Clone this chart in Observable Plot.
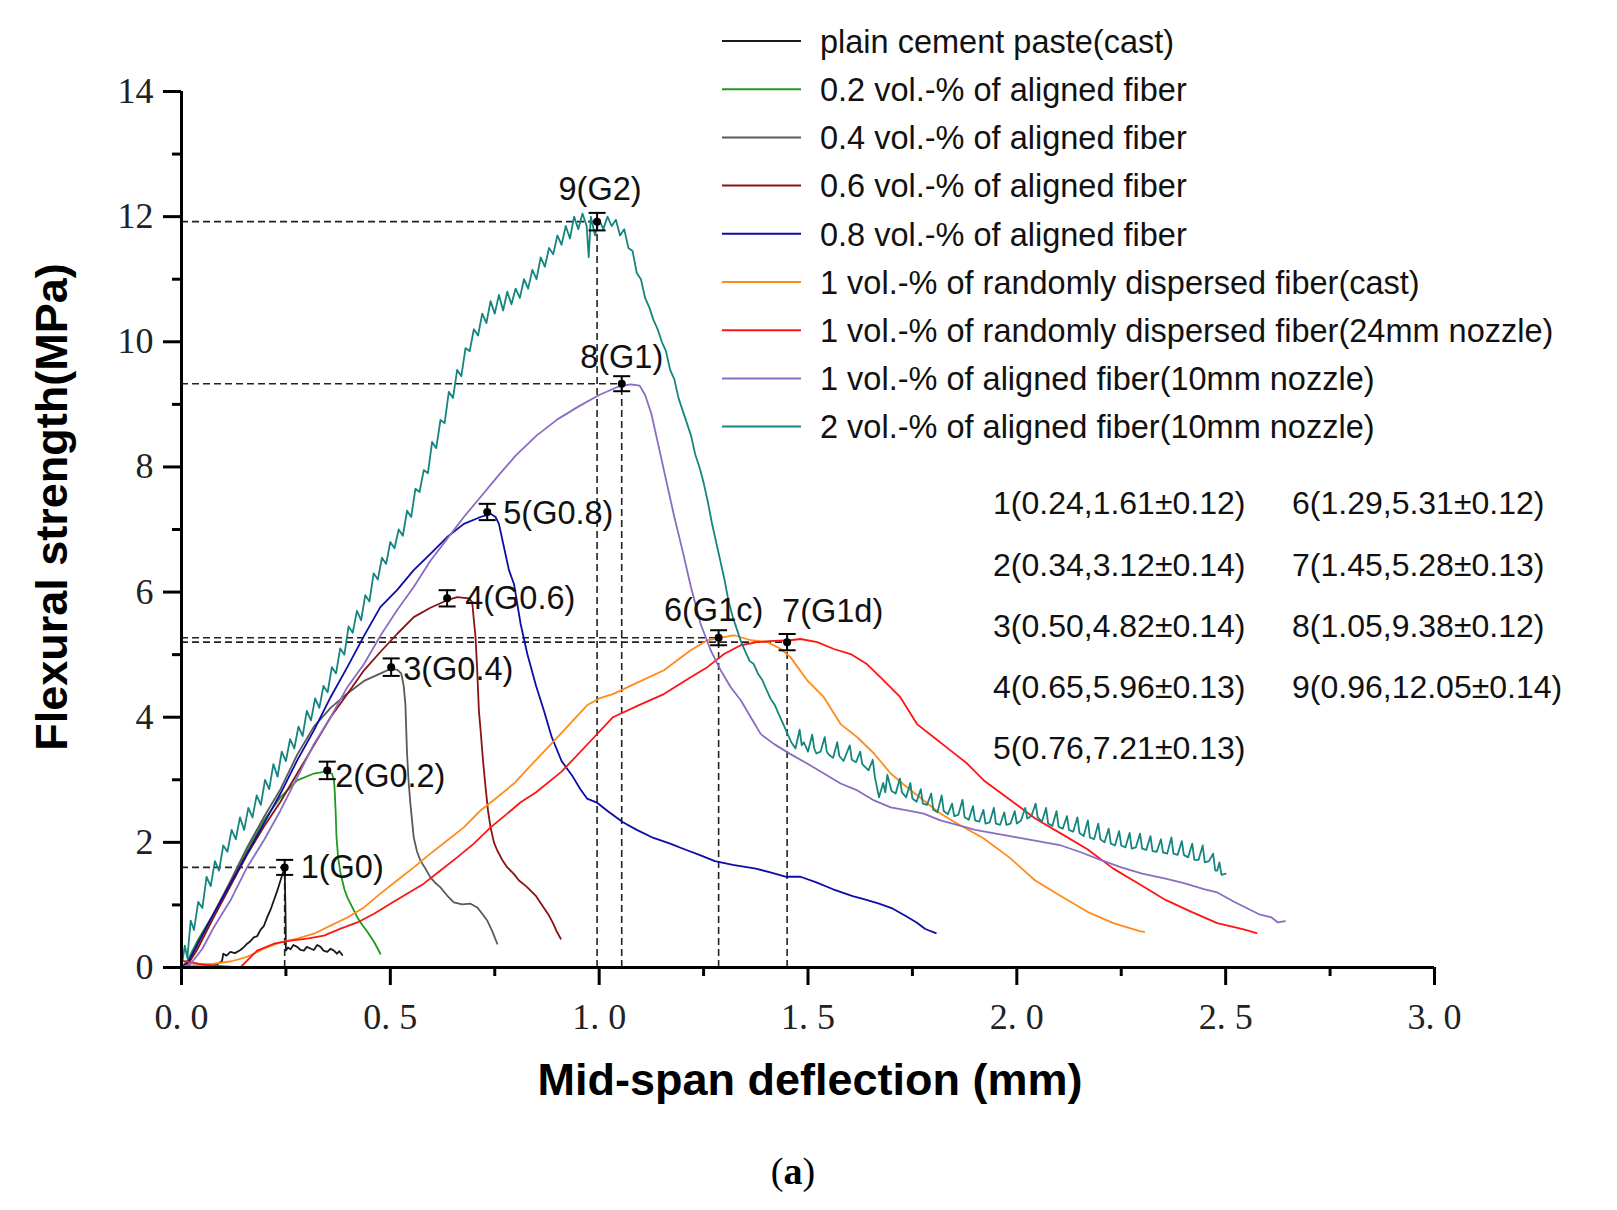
<!DOCTYPE html>
<html><head><meta charset="utf-8">
<script src="https://cdn.jsdelivr.net/npm/d3@7"></script>
<script src="https://cdn.jsdelivr.net/npm/@observablehq/plot@0.6"></script>
<style>
html,body{margin:0;padding:0;background:#fff;}
#chart{position:relative;width:1617px;height:1210px;}
</style></head><body><div id="chart"></div>
<script>
// ---------------- data ----------------
const seriesNames = [
  "plain cement paste(cast)",
  "0.2 vol.-% of aligned fiber",
  "0.4 vol.-% of aligned fiber",
  "0.6 vol.-% of aligned fiber",
  "0.8 vol.-% of aligned fiber",
  "1 vol.-% of randomly dispersed fiber(cast)",
  "1 vol.-% of randomly dispersed fiber(24mm nozzle)",
  "1 vol.-% of aligned fiber(10mm nozzle)",
  "2 vol.-% of aligned fiber(10mm nozzle)"
];
const seriesColors = ["#1a1a1a","#1f9a1f","#5a5a5a","#8b1212","#0c0ca6","#ff8c1a","#ff1414","#8a6cc4","#14857f"];

const plainPaste = [[0,0.02],[0.03,0.03],[0.06,0.02],[0.085,0.05],[0.097,0.1],[0.1,0.22],[0.108,0.19],[0.117,0.25],[0.128,0.23],[0.141,0.28],[0.15,0.33],[0.157,0.38],[0.165,0.42],[0.173,0.48],[0.181,0.5],[0.189,0.6],[0.197,0.66],[0.205,0.8],[0.213,0.92],[0.221,1.07],[0.229,1.22],[0.237,1.39],[0.243,1.52],[0.247,1.61],[0.249,0.9],[0.25,0.27],[0.255,0.32],[0.261,0.29],[0.268,0.36],[0.277,0.33],[0.285,0.28],[0.293,0.27],[0.3,0.33],[0.31,0.3],[0.317,0.28],[0.325,0.36],[0.333,0.33],[0.34,0.27],[0.349,0.25],[0.357,0.3],[0.365,0.27],[0.372,0.22],[0.378,0.26],[0.385,0.2]];

const aligned02 = [[0,0],[0.014,0.11],[0.04,0.45],[0.077,0.86],[0.117,1.34],[0.157,1.87],[0.197,2.35],[0.237,2.72],[0.277,2.99],[0.317,3.1],[0.345,3.13],[0.36,3.1],[0.365,3.0],[0.367,2.8],[0.369,2.5],[0.371,2.1],[0.375,1.75],[0.381,1.5],[0.39,1.25],[0.397,1.12],[0.41,0.95],[0.421,0.8],[0.433,0.68],[0.445,0.57],[0.46,0.42],[0.47,0.3],[0.476,0.22]];

const aligned04 = [[0,0],[0.02,0.12],[0.04,0.38],[0.077,0.86],[0.117,1.38],[0.157,1.92],[0.197,2.4],[0.237,2.85],[0.277,3.4],[0.317,3.85],[0.357,4.15],[0.397,4.38],[0.437,4.58],[0.477,4.7],[0.5,4.77],[0.516,4.76],[0.526,4.7],[0.532,4.5],[0.536,4.21],[0.54,3.42],[0.544,2.95],[0.548,2.62],[0.556,2.08],[0.564,1.85],[0.572,1.71],[0.584,1.58],[0.596,1.44],[0.608,1.35],[0.62,1.28],[0.636,1.15],[0.652,1.04],[0.672,1.01],[0.692,1.02],[0.708,0.96],[0.72,0.86],[0.732,0.75],[0.744,0.58],[0.756,0.38]];

const aligned06 = [[0,0],[0.02,0.1],[0.037,0.28],[0.077,0.8],[0.117,1.3],[0.157,1.8],[0.197,2.25],[0.237,2.65],[0.277,3.1],[0.317,3.55],[0.357,4.0],[0.397,4.37],[0.437,4.75],[0.477,5.05],[0.516,5.33],[0.556,5.6],[0.596,5.75],[0.636,5.87],[0.66,5.92],[0.688,5.9],[0.696,5.84],[0.7,5.55],[0.704,5.28],[0.708,4.75],[0.712,4.11],[0.716,3.8],[0.722,3.3],[0.728,2.88],[0.734,2.5],[0.74,2.24],[0.748,2.0],[0.756,1.87],[0.768,1.72],[0.78,1.6],[0.795,1.5],[0.808,1.39],[0.825,1.3],[0.84,1.2],[0.849,1.14],[0.865,0.98],[0.88,0.83],[0.89,0.7],[0.898,0.58],[0.908,0.46]];

const aligned08 = [[0,0],[0.014,0.06],[0.04,0.4],[0.077,0.86],[0.117,1.34],[0.157,1.82],[0.197,2.3],[0.237,2.78],[0.277,3.31],[0.317,3.79],[0.357,4.32],[0.397,4.8],[0.437,5.3],[0.476,5.76],[0.516,6.03],[0.556,6.35],[0.596,6.61],[0.636,6.88],[0.676,7.09],[0.716,7.2],[0.74,7.25],[0.752,7.2],[0.76,7.09],[0.772,6.72],[0.784,6.35],[0.796,6.13],[0.812,5.49],[0.828,5.01],[0.849,4.5],[0.868,4.1],[0.886,3.69],[0.91,3.3],[0.935,3.07],[0.955,2.85],[0.971,2.7],[0.996,2.63],[1.02,2.5],[1.057,2.32],[1.09,2.2],[1.13,2.07],[1.17,1.98],[1.204,1.89],[1.24,1.8],[1.277,1.7],[1.32,1.64],[1.375,1.58],[1.41,1.52],[1.448,1.45],[1.482,1.45],[1.52,1.36],[1.56,1.25],[1.607,1.14],[1.64,1.08],[1.67,1.02],[1.7,0.95],[1.732,0.83],[1.76,0.72],[1.78,0.62],[1.794,0.58],[1.806,0.55]];

const randomCast = [[0,0],[0.03,0.03],[0.077,0.06],[0.12,0.1],[0.157,0.17],[0.197,0.3],[0.237,0.4],[0.277,0.46],[0.317,0.54],[0.357,0.67],[0.397,0.8],[0.437,0.96],[0.476,1.18],[0.516,1.39],[0.556,1.6],[0.596,1.82],[0.636,2.03],[0.676,2.24],[0.716,2.51],[0.756,2.72],[0.796,2.94],[0.849,3.32],[0.91,3.75],[0.971,4.19],[1.0,4.3],[1.033,4.37],[1.094,4.56],[1.155,4.75],[1.219,5.07],[1.259,5.23],[1.299,5.28],[1.323,5.31],[1.363,5.23],[1.403,5.2],[1.435,5.09],[1.458,4.96],[1.498,4.59],[1.538,4.32],[1.578,3.89],[1.618,3.68],[1.658,3.42],[1.698,3.1],[1.737,2.88],[1.777,2.67],[1.817,2.46],[1.857,2.3],[1.919,2.07],[1.982,1.76],[2.044,1.39],[2.106,1.14],[2.169,0.89],[2.231,0.71],[2.294,0.58],[2.305,0.57]];

const randomNozzle = [[0,0.11],[0.04,0.06],[0.077,0.03],[0.141,0.0],[0.157,0.11],[0.181,0.27],[0.221,0.38],[0.261,0.43],[0.301,0.46],[0.341,0.51],[0.381,0.62],[0.421,0.72],[0.461,0.86],[0.5,1.02],[0.54,1.18],[0.58,1.34],[0.62,1.55],[0.66,1.76],[0.7,1.98],[0.74,2.24],[0.78,2.46],[0.812,2.64],[0.849,2.8],[0.91,3.13],[0.971,3.56],[1.033,4.0],[1.094,4.19],[1.155,4.37],[1.219,4.64],[1.259,4.8],[1.299,5.01],[1.339,5.15],[1.378,5.2],[1.418,5.22],[1.458,5.23],[1.482,5.25],[1.522,5.2],[1.562,5.09],[1.602,5.01],[1.641,4.85],[1.681,4.59],[1.721,4.32],[1.761,3.89],[1.801,3.68],[1.841,3.47],[1.881,3.26],[1.921,2.99],[1.982,2.69],[2.044,2.38],[2.106,2.14],[2.169,1.89],[2.231,1.58],[2.294,1.33],[2.356,1.08],[2.418,0.89],[2.48,0.71],[2.543,0.61],[2.574,0.55]];

const aligned1 = [[0,0],[0.022,0.06],[0.05,0.3],[0.077,0.64],[0.117,1.07],[0.157,1.6],[0.197,2.03],[0.237,2.51],[0.277,3.04],[0.317,3.57],[0.357,4.0],[0.397,4.48],[0.437,4.85],[0.476,5.3],[0.516,5.71],[0.556,6.08],[0.596,6.5],[0.636,6.85],[0.676,7.2],[0.716,7.52],[0.756,7.84],[0.8,8.18],[0.85,8.5],[0.9,8.76],[0.949,8.96],[1.0,9.15],[1.048,9.29],[1.075,9.32],[1.097,9.3],[1.11,9.15],[1.125,8.85],[1.14,8.4],[1.16,7.8],[1.18,7.2],[1.2,6.65],[1.219,6.1],[1.243,5.49],[1.267,5.07],[1.291,4.75],[1.315,4.48],[1.339,4.27],[1.363,4.0],[1.387,3.73],[1.419,3.57],[1.458,3.41],[1.498,3.26],[1.538,3.1],[1.578,2.94],[1.618,2.83],[1.658,2.67],[1.698,2.56],[1.737,2.51],[1.777,2.46],[1.817,2.35],[1.857,2.28],[1.9,2.2],[1.95,2.14],[2.0,2.08],[2.05,2.02],[2.106,1.95],[2.15,1.85],[2.2,1.72],[2.25,1.6],[2.3,1.5],[2.356,1.42],[2.4,1.35],[2.45,1.25],[2.48,1.2],[2.52,1.05],[2.55,0.95],[2.58,0.85],[2.61,0.8],[2.625,0.72],[2.642,0.74]];

const aligned2 = [[0,0],[0.008,0.35],[0.014,0.15],[0.022,0.75],[0.03,0.6],[0.04,1.05],[0.05,0.95],[0.06,1.45],[0.07,1.3],[0.08,1.7],[0.09,1.55],[0.1,1.95],[0.11,1.85],[0.12,2.2],[0.13,2.05],[0.14,2.4],[0.15,2.2],[0.16,2.55],[0.17,2.4],[0.18,2.75],[0.19,2.6],[0.2,3.0],[0.21,2.85],[0.22,3.25],[0.23,3.05],[0.24,3.45],[0.25,3.3],[0.26,3.65],[0.27,3.5],[0.28,3.85],[0.29,3.7],[0.3,4.1],[0.31,3.95],[0.32,4.3],[0.33,4.15],[0.34,4.5],[0.35,4.4],[0.36,4.8],[0.37,4.7],[0.38,5.1],[0.39,5.0],[0.4,5.45],[0.41,5.35],[0.42,5.7],[0.43,5.55],[0.44,5.95],[0.45,5.85],[0.46,6.3],[0.47,6.2],[0.48,6.55],[0.49,6.45],[0.5,6.8],[0.51,6.7],[0.52,7.0],[0.53,6.9],[0.54,7.3],[0.55,7.2],[0.56,7.65],[0.57,7.6],[0.58,7.95],[0.59,7.9],[0.6,8.4],[0.61,8.3],[0.62,8.75],[0.63,8.7],[0.64,9.2],[0.65,9.1],[0.66,9.55],[0.67,9.45],[0.68,9.9],[0.69,9.85],[0.7,10.2],[0.71,10.1],[0.72,10.45],[0.73,10.3],[0.74,10.65],[0.75,10.45],[0.76,10.75],[0.77,10.5],[0.78,10.8],[0.79,10.6],[0.8,10.85],[0.81,10.7],[0.82,11.0],[0.83,10.85],[0.84,11.15],[0.85,11.0],[0.86,11.35],[0.87,11.2],[0.88,11.5],[0.89,11.4],[0.9,11.7],[0.91,11.55],[0.92,11.85],[0.93,11.65],[0.94,12.0],[0.95,11.8],[0.96,12.05],[0.97,11.85],[0.975,11.35],[0.98,12.0],[0.99,11.7],[1.0,11.95],[1.01,11.8],[1.02,12.0],[1.03,11.85],[1.04,11.95],[1.05,11.7],[1.06,11.8],[1.07,11.5],[1.08,11.45],[1.09,11.1],[1.1,11.0],[1.11,10.7],[1.12,10.55],[1.13,10.35],[1.14,10.2],[1.15,10.0],[1.16,9.85],[1.17,9.55],[1.18,9.4],[1.19,9.1],[1.2,8.9],[1.21,8.7],[1.22,8.5],[1.23,8.2],[1.24,8.0],[1.25,7.75],[1.26,7.45],[1.27,7.1],[1.28,6.8],[1.29,6.5],[1.3,6.2],[1.31,5.85],[1.32,5.6],[1.33,5.4],[1.34,5.2],[1.35,5.05],[1.36,4.9],[1.37,4.85],[1.38,4.7],[1.39,4.6],[1.4,4.45],[1.41,4.3],[1.42,4.2],[1.43,4.05],[1.44,3.9],[1.45,3.75],[1.46,3.6],[1.47,3.5],[1.48,3.8],[1.485,3.55],[1.49,3.6],[1.5,3.45],[1.51,3.72],[1.515,3.5],[1.52,3.42],[1.53,3.45],[1.54,3.68],[1.545,3.45],[1.55,3.4],[1.56,3.35],[1.57,3.6],[1.575,3.38],[1.585,3.3],[1.6,3.55],[1.605,3.32],[1.615,3.28],[1.625,3.45],[1.63,3.25],[1.645,3.15],[1.655,3.32],[1.66,3.05],[1.67,2.72],[1.68,2.95],[1.685,2.8],[1.69,3.08],[1.7,2.82],[1.71,2.78],[1.72,3.02],[1.725,2.8],[1.735,2.72],[1.745,2.95],[1.75,2.7],[1.76,2.65],[1.77,2.85],[1.775,2.62],[1.785,2.6],[1.795,2.78],[1.8,2.52],[1.81,2.48],[1.82,2.75],[1.825,2.5],[1.835,2.45],[1.845,2.62],[1.85,2.42],[1.86,2.44],[1.87,2.68],[1.875,2.4],[1.885,2.36],[1.895,2.58],[1.9,2.35],[1.91,2.33],[1.92,2.52],[1.925,2.3],[1.935,2.32],[1.945,2.55],[1.95,2.3],[1.96,2.28],[1.97,2.48],[1.975,2.28],[1.985,2.3],[1.995,2.5],[2.0,2.3],[2.01,2.35],[2.02,2.55],[2.025,2.38],[2.035,2.42],[2.045,2.62],[2.05,2.4],[2.06,2.33],[2.07,2.55],[2.075,2.3],[2.085,2.26],[2.095,2.5],[2.1,2.25],[2.11,2.22],[2.12,2.42],[2.125,2.2],[2.135,2.17],[2.145,2.4],[2.15,2.15],[2.16,2.1],[2.17,2.35],[2.175,2.08],[2.185,2.05],[2.195,2.3],[2.2,2.05],[2.21,2.0],[2.22,2.22],[2.225,1.98],[2.235,1.95],[2.245,2.18],[2.25,1.95],[2.26,1.92],[2.27,2.15],[2.275,1.9],[2.285,1.92],[2.295,2.14],[2.3,1.9],[2.31,1.88],[2.32,2.1],[2.325,1.86],[2.335,1.85],[2.345,2.05],[2.35,1.84],[2.36,1.82],[2.37,2.08],[2.375,1.82],[2.385,1.8],[2.395,2.02],[2.4,1.8],[2.41,1.76],[2.42,1.98],[2.425,1.72],[2.435,1.72],[2.445,1.95],[2.45,1.68],[2.46,1.7],[2.47,1.82],[2.475,1.55],[2.48,1.55],[2.485,1.68],[2.49,1.48],[2.5,1.5]];

const seriesData = [plainPaste, aligned02, aligned04, aligned06, aligned08, randomCast, randomNozzle, aligned1, aligned2];

// peak markers as drawn on the figure
const pointLabel = ["1(G0)","2(G0.2)","3(G0.4)","4(G0.6)","5(G0.8)","6(G1c)","7(G1d)","8(G1)","9(G2)"];
const pointX = [0.247, 0.349, 0.502, 0.636, 0.732, 1.286, 1.450, 1.054, 0.995];
const pointY = [1.60, 3.15, 4.80, 5.90, 7.28, 5.27, 5.20, 9.33, 11.92];
const pointErr = [0.12, 0.14, 0.14, 0.13, 0.13, 0.12, 0.13, 0.12, 0.14];
const guideIndex = [0, 5, 6, 7, 8];

const statTexts = [
  "1(0.24,1.61±0.12)", "2(0.34,3.12±0.14)", "3(0.50,4.82±0.14)", "4(0.65,5.96±0.13)", "5(0.76,7.21±0.13)",
  "6(1.29,5.31±0.12)", "7(1.45,5.28±0.13)", "8(1.05,9.38±0.12)", "9(0.96,12.05±0.14)"
];

const xMajorTicks = [0, 0.5, 1, 1.5, 2, 2.5, 3];
const xMinorTicks = [0.25, 0.75, 1.25, 1.75, 2.25, 2.75];
const yMajorTicks = [0, 2, 4, 6, 8, 10, 12, 14];
const yMinorTicks = [1, 3, 5, 7, 9, 11, 13];

const xTitle = "Mid-span deflection (mm)";
const yTitle = "Flexural strength(MPa)";

// ---------------- build ----------------
const points = pointX.map((x, i) => ({x, y: pointY[i], e: pointErr[i], label: pointLabel[i]}));
const guides = guideIndex.map(i => points[i]);

const capSymbol = {draw(ctx, size) { const w = Math.sqrt(size); ctx.moveTo(-w, 0); ctx.lineTo(w, 0); }};

const labelFont = {fontFamily: "Liberation Sans, Arial, sans-serif", fontSize: 32.5, fill: "#111"};
const lbl = (i, opts) => Plot.text([points[i]], {x: "x", y: "y", text: "label", ...labelFont, ...opts});

const marks = [
  Plot.ruleY(guides, {y: "y", x1: () => 0, x2: "x", stroke: "#222", strokeWidth: 1.6, strokeDasharray: "7,4"}),
  Plot.ruleX(guides, {x: "x", y1: () => 0, y2: "y", stroke: "#222", strokeWidth: 1.6, strokeDasharray: "7,4"}),
  ...seriesData.map((data, i) => Plot.line(data, {x: d => d[0], y: d => d[1], stroke: seriesColors[i], strokeWidth: 1.8})),
  Plot.ruleX(points, {x: "x", y1: d => d.y - d.e, y2: d => d.y + d.e, stroke: "#000", strokeWidth: 2}),
  Plot.dot(points, {x: "x", y: d => d.y + d.e, symbol: capSymbol, r: 4.8, stroke: "#000", fill: "none", strokeWidth: 2}),
  Plot.dot(points, {x: "x", y: d => d.y - d.e, symbol: capSymbol, r: 4.8, stroke: "#000", fill: "none", strokeWidth: 2}),
  Plot.dot(points, {x: "x", y: "y", r: 4, fill: "#000", stroke: "none"}),
  lbl(0, {textAnchor: "start", dx: 16}),
  lbl(1, {textAnchor: "start", dx: 8, dy: 6}),
  lbl(2, {textAnchor: "start", dx: 12, dy: 2}),
  lbl(3, {textAnchor: "start", dx: 18}),
  lbl(4, {textAnchor: "start", dx: 16, dy: 2}),
  lbl(5, {textAnchor: "middle", dx: -5, dy: -27}),
  lbl(6, {textAnchor: "start", dx: -5, dy: -31}),
  lbl(7, {textAnchor: "middle", dx: 0, dy: -26}),
  lbl(8, {textAnchor: "middle", dx: 3, dy: -32}),
  Plot.axisX({ticks: xMajorTicks, tickSize: 18, tickPadding: 18, tickFormat: d => d.toFixed(1).replace(".", ". "), strokeWidth: 3, fill: "#222", label: null}),
  Plot.axisX({ticks: xMinorTicks, tickSize: 9, tickFormat: () => "", strokeWidth: 3, label: null}),
  Plot.axisY({ticks: yMajorTicks, tickSize: 18, tickPadding: 10, tickFormat: d => String(d), strokeWidth: 3, fill: "#222", label: null}),
  Plot.axisY({ticks: yMinorTicks, tickSize: 9, tickFormat: () => "", strokeWidth: 3, label: null}),
  Plot.ruleY([0], {strokeWidth: 3, stroke: "#000"}),
  Plot.ruleX([0], {strokeWidth: 3, stroke: "#000"})
];

const plot = Plot.plot({
  width: 1617,
  height: 1210,
  marginLeft: 181,
  marginRight: 183,
  marginTop: 91,
  marginBottom: 243,
  x: {domain: [0, 3]},
  y: {domain: [0, 14]},
  style: {fontFamily: "Liberation Serif, 'Times New Roman', serif", fontSize: "36px", background: "#fff", overflow: "visible", color: "#000"},
  marks
});

document.getElementById("chart").appendChild(plot);

// ---------------- annotations (pixel layout) ----------------
const svg = d3.select(plot);
const sans = "Liberation Sans, Arial, sans-serif";

// axis titles
svg.append("text")
  .attr("x", 810).attr("y", 1095)
  .attr("text-anchor", "middle")
  .attr("font-family", sans).attr("font-weight", "bold").attr("font-size", 45)
  .attr("fill", "#000")
  .text(xTitle);
svg.append("text")
  .attr("transform", "translate(67,507) rotate(-90)")
  .attr("text-anchor", "middle")
  .attr("font-family", sans).attr("font-weight", "bold").attr("font-size", 45)
  .attr("fill", "#000")
  .text(yTitle);

// legend
const lg = svg.append("g").attr("text-anchor", "start");
seriesNames.forEach((name, i) => {
  const y = 41 + i * 48.2;
  lg.append("line").attr("x1", 722).attr("x2", 801).attr("y1", y).attr("y2", y)
    .attr("stroke", seriesColors[i]).attr("stroke-width", 2);
  lg.append("text").attr("x", 820).attr("y", y).attr("dy", "0.36em")
    .attr("text-anchor", "start")
    .attr("font-family", sans).attr("font-size", 32.5).attr("fill", "#111")
    .text(name);
});

// statistics text block
statTexts.forEach((t, i) => {
  const col = i < 5 ? 0 : 1;
  const row = i < 5 ? i : i - 5;
  svg.append("text")
    .attr("x", col === 0 ? 993 : 1292)
    .attr("y", 502.7 + row * 61.3)
    .attr("dy", "0.36em")
    .attr("text-anchor", "start")
    .attr("font-family", sans).attr("font-size", 32).attr("fill", "#111")
    .text(t);
});

// panel caption
const cap = svg.append("text")
  .attr("x", 793).attr("y", 1184)
  .attr("text-anchor", "middle")
  .attr("font-family", "Liberation Serif, 'Times New Roman', serif").attr("font-size", 38).attr("fill", "#000");
cap.append("tspan").text("(");
cap.append("tspan").attr("font-weight", "bold").text("a");
cap.append("tspan").text(")");
</script>
</body></html>
